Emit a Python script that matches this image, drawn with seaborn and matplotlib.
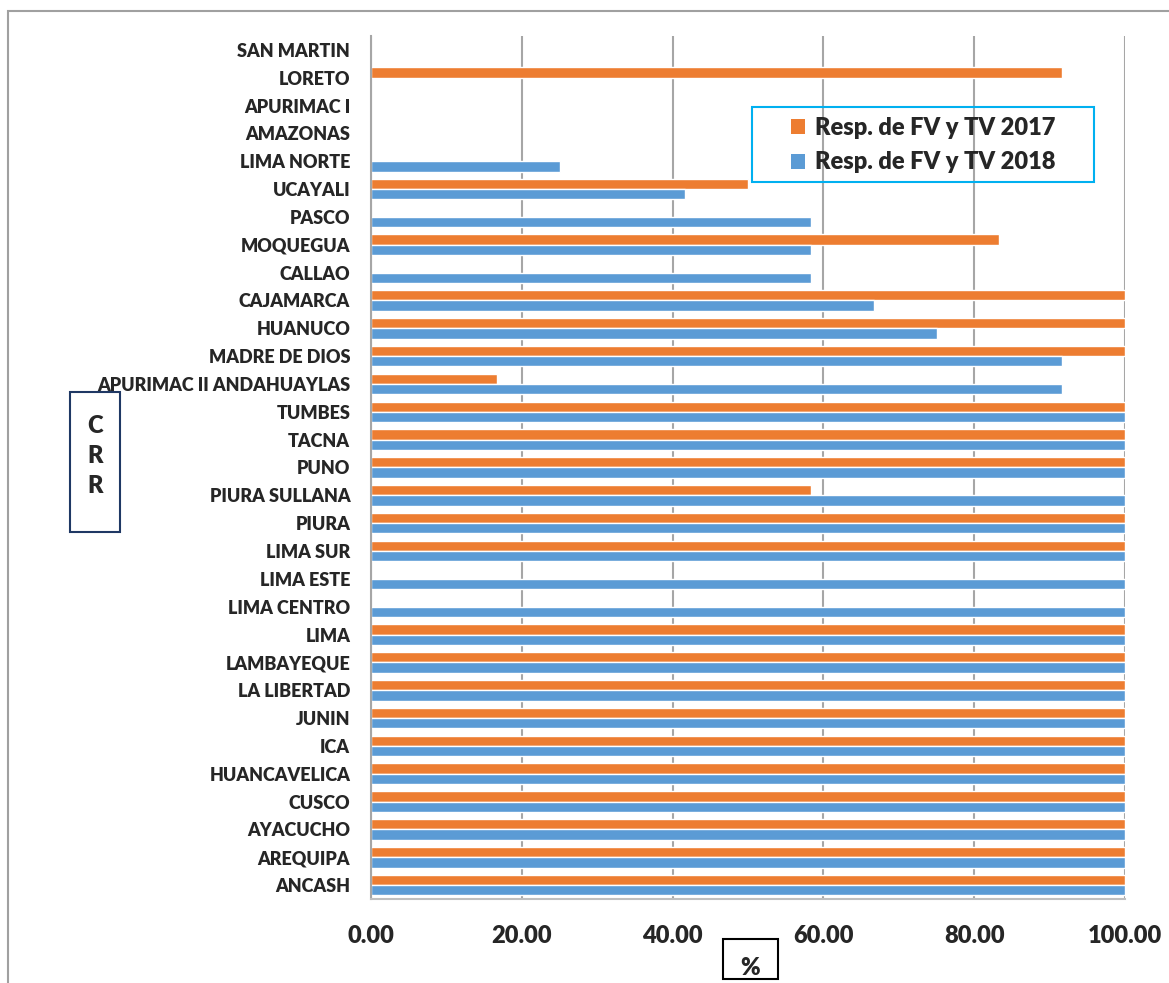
import matplotlib
matplotlib.use("Agg")
import matplotlib.pyplot as plt
from matplotlib.patches import Patch, Rectangle
import seaborn as sns
import pandas as pd

# === Data (top to bottom as shown) ===
regions = [
    "SAN MARTIN", "LORETO", "APURIMAC I", "AMAZONAS", "LIMA NORTE", "UCAYALI",
    "PASCO", "MOQUEGUA", "CALLAO", "CAJAMARCA", "HUANUCO", "MADRE DE DIOS",
    "APURIMAC II ANDAHUAYLAS", "TUMBES", "TACNA", "PUNO", "PIURA SULLANA",
    "PIURA", "LIMA SUR", "LIMA ESTE", "LIMA CENTRO", "LIMA", "LAMBAYEQUE",
    "LA LIBERTAD", "JUNIN", "ICA", "HUANCAVELICA", "CUSCO", "AYACUCHO",
    "AREQUIPA", "ANCASH",
]
resp_2017 = [0, 91.67, 0, 0, 0, 50, 0, 83.33, 0, 100, 100, 100, 16.67, 100,
             100, 100, 58.33, 100, 100, 0, 0, 100, 100, 100, 100, 100, 100,
             100, 100, 100, 100]
resp_2018 = [0, 0, 0, 0, 25, 41.67, 58.33, 58.33, 58.33, 66.67, 75, 91.67,
             91.67, 100, 100, 100, 100, 100, 100, 100, 100, 100, 100, 100,
             100, 100, 100, 100, 100, 100, 100]
series = ["Resp. de FV y TV 2017", "Resp. de FV y TV 2018"]
x_ticks = [0, 20, 40, 60, 80, 100]

df = pd.DataFrame({
    "region": regions * 2,
    "value": resp_2017 + resp_2018,
    "serie": [series[0]] * len(regions) + [series[1]] * len(regions),
})

colors = {series[0]: "#ED7D31", series[1]: "#5B9BD5"}
W = "heavy"

sns.set_style("white")
plt.rcParams["font.family"] = ["Lato", "DejaVu Sans"]
plt.rcParams["font.weight"] = W

fig = plt.figure(figsize=(11.69, 9.83), dpi=100)
ax = fig.add_axes([371 / 1169, 1 - 899 / 983, (1125 - 371) / 1169, (899 - 36) / 983])

sns.barplot(
    data=df, x="value", y="region", hue="serie",
    order=regions, hue_order=series, palette=colors, saturation=1,
    orient="h", width=0.74, edgecolor="white", linewidth=1.0,
    errorbar=None, legend=False, ax=ax,
)

ax.set_xlim(0, 100)
ax.set_ylim(len(regions) - 0.5, -0.5)
ax.set_xticks(x_ticks)
ax.set_xticklabels([f"{t:.2f}" for t in x_ticks], fontsize=17, fontweight=W)
ax.tick_params(axis="x", length=0, pad=19)
ax.tick_params(axis="y", length=0, pad=15, labelsize=13)
for lbl in ax.get_yticklabels():
    lbl.set_fontweight(W)
ax.set_xlabel("")
ax.set_ylabel("")
ax.xaxis.grid(True, color="#A6A6A6", linewidth=1.5)
ax.yaxis.grid(False)
ax.set_axisbelow(True)
for s in ["top", "right"]:
    ax.spines[s].set_visible(False)
ax.spines["left"].set_color("#A6A6A6")
ax.spines["bottom"].set_color("#BFBFBF")
ax.spines["left"].set_linewidth(1.5)
ax.spines["bottom"].set_linewidth(1.5)

# legend (frame drawn separately to get the wide side padding; transparent like the original)
fig.patches.append(Rectangle((752 / 1169, 1 - 182 / 983), 342 / 1169, 75 / 983,
                             transform=fig.transFigure, facecolor="none",
                             edgecolor="#00B0F0", linewidth=1.5, zorder=3))
handles = [Patch(facecolor=colors[s], edgecolor="none") for s in series]
leg = fig.legend(
    handles, series, loc="center",
    bbox_to_anchor=(923 / 1169, 1 - 145 / 983),
    frameon=False, handlelength=0.6, handleheight=0.6, handletextpad=0.4,
    borderpad=0, labelspacing=0.55,
    prop={"weight": W, "size": 17},
)
leg.set_zorder(4)

# outer chart border
fig.patches.append(Rectangle((8 / 1169, -0.1), 1.2, 1 - 11 / 983 + 0.1,
                             transform=fig.transFigure, fill=False,
                             edgecolor="#A0A0A0", linewidth=1.5))

# axis title boxes
fig.patches.append(Rectangle((70 / 1169, 1 - 532 / 983), 50 / 1169, 140 / 983,
                             transform=fig.transFigure, fill=False,
                             edgecolor="#1F3864", linewidth=1.5))
fig.text(95 / 1169, 1 - 456 / 983, "C\nR\nR", ha="center", va="center",
         fontsize=17, fontweight=W, linespacing=1.42)

fig.patches.append(Rectangle((723 / 1169, 1 - 979 / 983), 55 / 1169, 40 / 983,
                             transform=fig.transFigure, fill=False,
                             edgecolor="black", linewidth=1.5))
fig.text(750 / 1169, 1 - 968 / 983, "%", ha="center", va="center",
         fontsize=17, fontweight=W)

fig.savefig("out.png", dpi=100)
